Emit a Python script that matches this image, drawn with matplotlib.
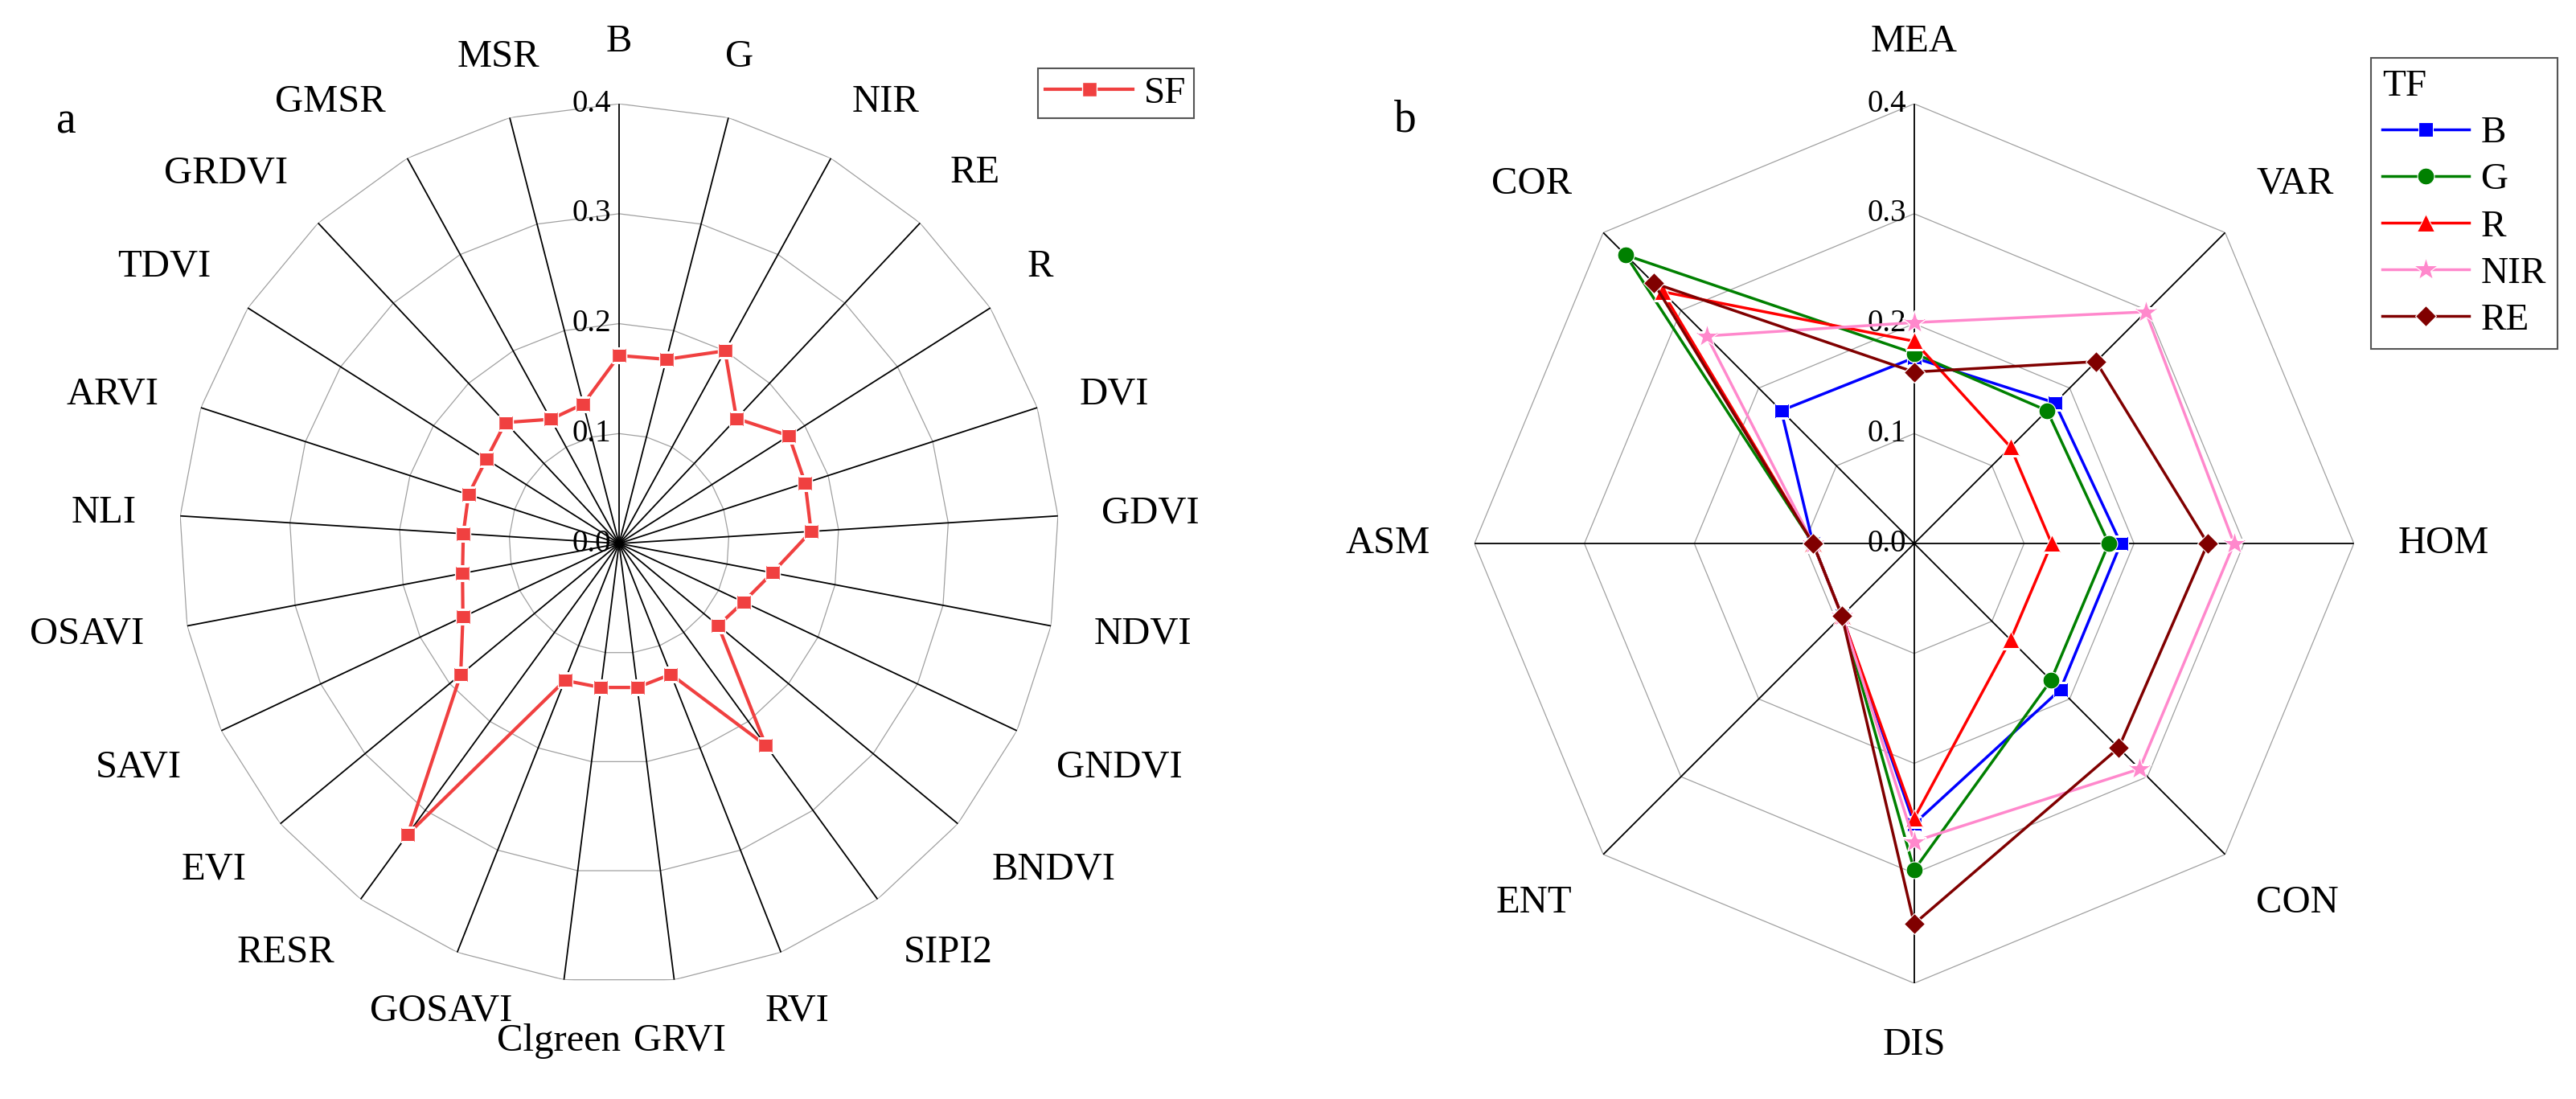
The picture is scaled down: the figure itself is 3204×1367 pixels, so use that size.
import numpy as np
import matplotlib
matplotlib.use("Agg")
import matplotlib.pyplot as plt

plt.rcParams["font.family"] = ["Liberation Serif", "DejaVu Serif"]

# panel a: spectral features (SF)
sf_labels = ["B", "G", "NIR", "RE", "R", "DVI", "GDVI", "NDVI", "GNDVI", "BNDVI",
             "SIPI2", "RVI", "GRVI", "Clgreen", "GOSAVI", "RESR", "EVI", "SAVI",
             "OSAVI", "NLI", "ARVI", "TDVI", "GRDVI", "GMSR", "MSR"]
sf_values = [0.171, 0.173, 0.200, 0.156, 0.183, 0.178, 0.175, 0.142, 0.125, 0.117,
             0.227, 0.128, 0.132, 0.132, 0.134, 0.327, 0.187, 0.157,
             0.145, 0.142, 0.144, 0.143, 0.151, 0.129, 0.131]

# panel b: texture features (TF) per band
tf_labels = ["MEA", "VAR", "HOM", "CON", "DIS", "ENT", "ASM", "COR"]
tf_B = [0.169, 0.181, 0.188, 0.188, 0.255, 0.093, 0.092, 0.171]
tf_G = [0.173, 0.171, 0.177, 0.176, 0.297, 0.093, 0.092, 0.371]
tf_R = [0.184, 0.124, 0.125, 0.124, 0.250, 0.093, 0.092, 0.324]
tf_NIR = [0.201, 0.298, 0.291, 0.290, 0.271, 0.093, 0.092, 0.267]
tf_RE = [0.156, 0.234, 0.267, 0.263, 0.346, 0.093, 0.092, 0.335]

ring_ticks = [0.0, 0.1, 0.2, 0.3, 0.4]


def setup_radar(ax, labels):
    n = len(labels)
    theta = np.arange(n) * 2 * np.pi / n
    ax.set_theta_zero_location("N")
    ax.set_theta_direction(-1)
    ax.set_ylim(0, 0.4)
    ax.grid(False)
    ax.spines["polar"].set_visible(False)
    ax.set_xticks([])
    ax.set_yticks([])
    closed = np.append(theta, theta[0])
    for r in ring_ticks[1:]:
        ax.plot(closed, np.full(n + 1, r), color="#a0a0a0", lw=0.9, zorder=1)
    for t in theta:
        ax.plot([t, t], [0, 0.4], color="black", lw=1.3, zorder=1)
    for r in ring_ticks:
        ax.annotate(f"{r:.1f}", xy=(0, r), xytext=(-10, 0), textcoords="offset pixels",
                    ha="right", va="center", fontsize=28, zorder=2)
    # category labels around the outside
    for t, lab in zip(theta, labels):
        s, c = np.sin(t), np.cos(t)
        ha = "center" if abs(s) < 0.4 else ("left" if s > 0 else "right")
        va = "center" if abs(c) < 0.4 else ("bottom" if c > 0 else "top")
        ax.text(t, 0.44, lab, ha=ha, va=va, fontsize=35)
    return theta


def close(vals):
    return list(vals) + [vals[0]]


fig = plt.figure(figsize=(32.05, 13.67), dpi=100)

ax_a = fig.add_axes([0.0696, 0.1053, 0.3413, 0.8003], projection="polar")
ax_b = fig.add_axes([0.5722, 0.1053, 0.3413, 0.8003], projection="polar")

theta_a = setup_radar(ax_a, sf_labels)
ax_a.plot(close(theta_a), close(sf_values), color="#f04040", lw=3, marker="s", ms=13,
          mec="white", mew=1, label="SF", zorder=3)

theta_b = setup_radar(ax_b, tf_labels)
series = [("B", tf_B, "#0000ff", "s", 13),
          ("G", tf_G, "#008000", "o", 15),
          ("R", tf_R, "#ff0000", "^", 16),
          ("NIR", tf_NIR, "#ff88cc", "*", 22),
          ("RE", tf_RE, "#800000", "D", 13)]
for name, vals, col, mk, ms in series:
    ax_b.plot(close(theta_b), close(vals), color=col, lw=2.5, marker=mk, ms=ms,
              mec="white", mew=0.8, label=name, zorder=3)

leg_a = ax_a.legend(loc="upper left", bbox_to_anchor=(0.4028, 0.9378),
                    bbox_transform=fig.transFigure, fontsize=34, fancybox=False,
                    edgecolor="#555555", framealpha=1, handlelength=2.3,
                    borderaxespad=0, borderpad=0.2, handletextpad=0.3)
leg_a.get_frame().set_linewidth(1.5)

leg_b = ax_b.legend(loc="upper left", bbox_to_anchor=(0.920, 0.947),
                    bbox_transform=fig.transFigure, fontsize=34, title="TF",
                    title_fontsize=34, alignment="left", fancybox=False,
                    edgecolor="#555555", framealpha=1, handlelength=2.3,
                    borderaxespad=0, borderpad=0.3, handletextpad=0.3,
                    labelspacing=0.32)
leg_b.get_frame().set_linewidth(1.5)

fig.text(82 / 3205, 1 - 165 / 1367, "a", ha="center", va="baseline", fontsize=40)
fig.text(1748 / 3205, 1 - 164 / 1367, "b", ha="center", va="baseline", fontsize=40)

fig.savefig("out.png", dpi=100)
plt.close(fig)
